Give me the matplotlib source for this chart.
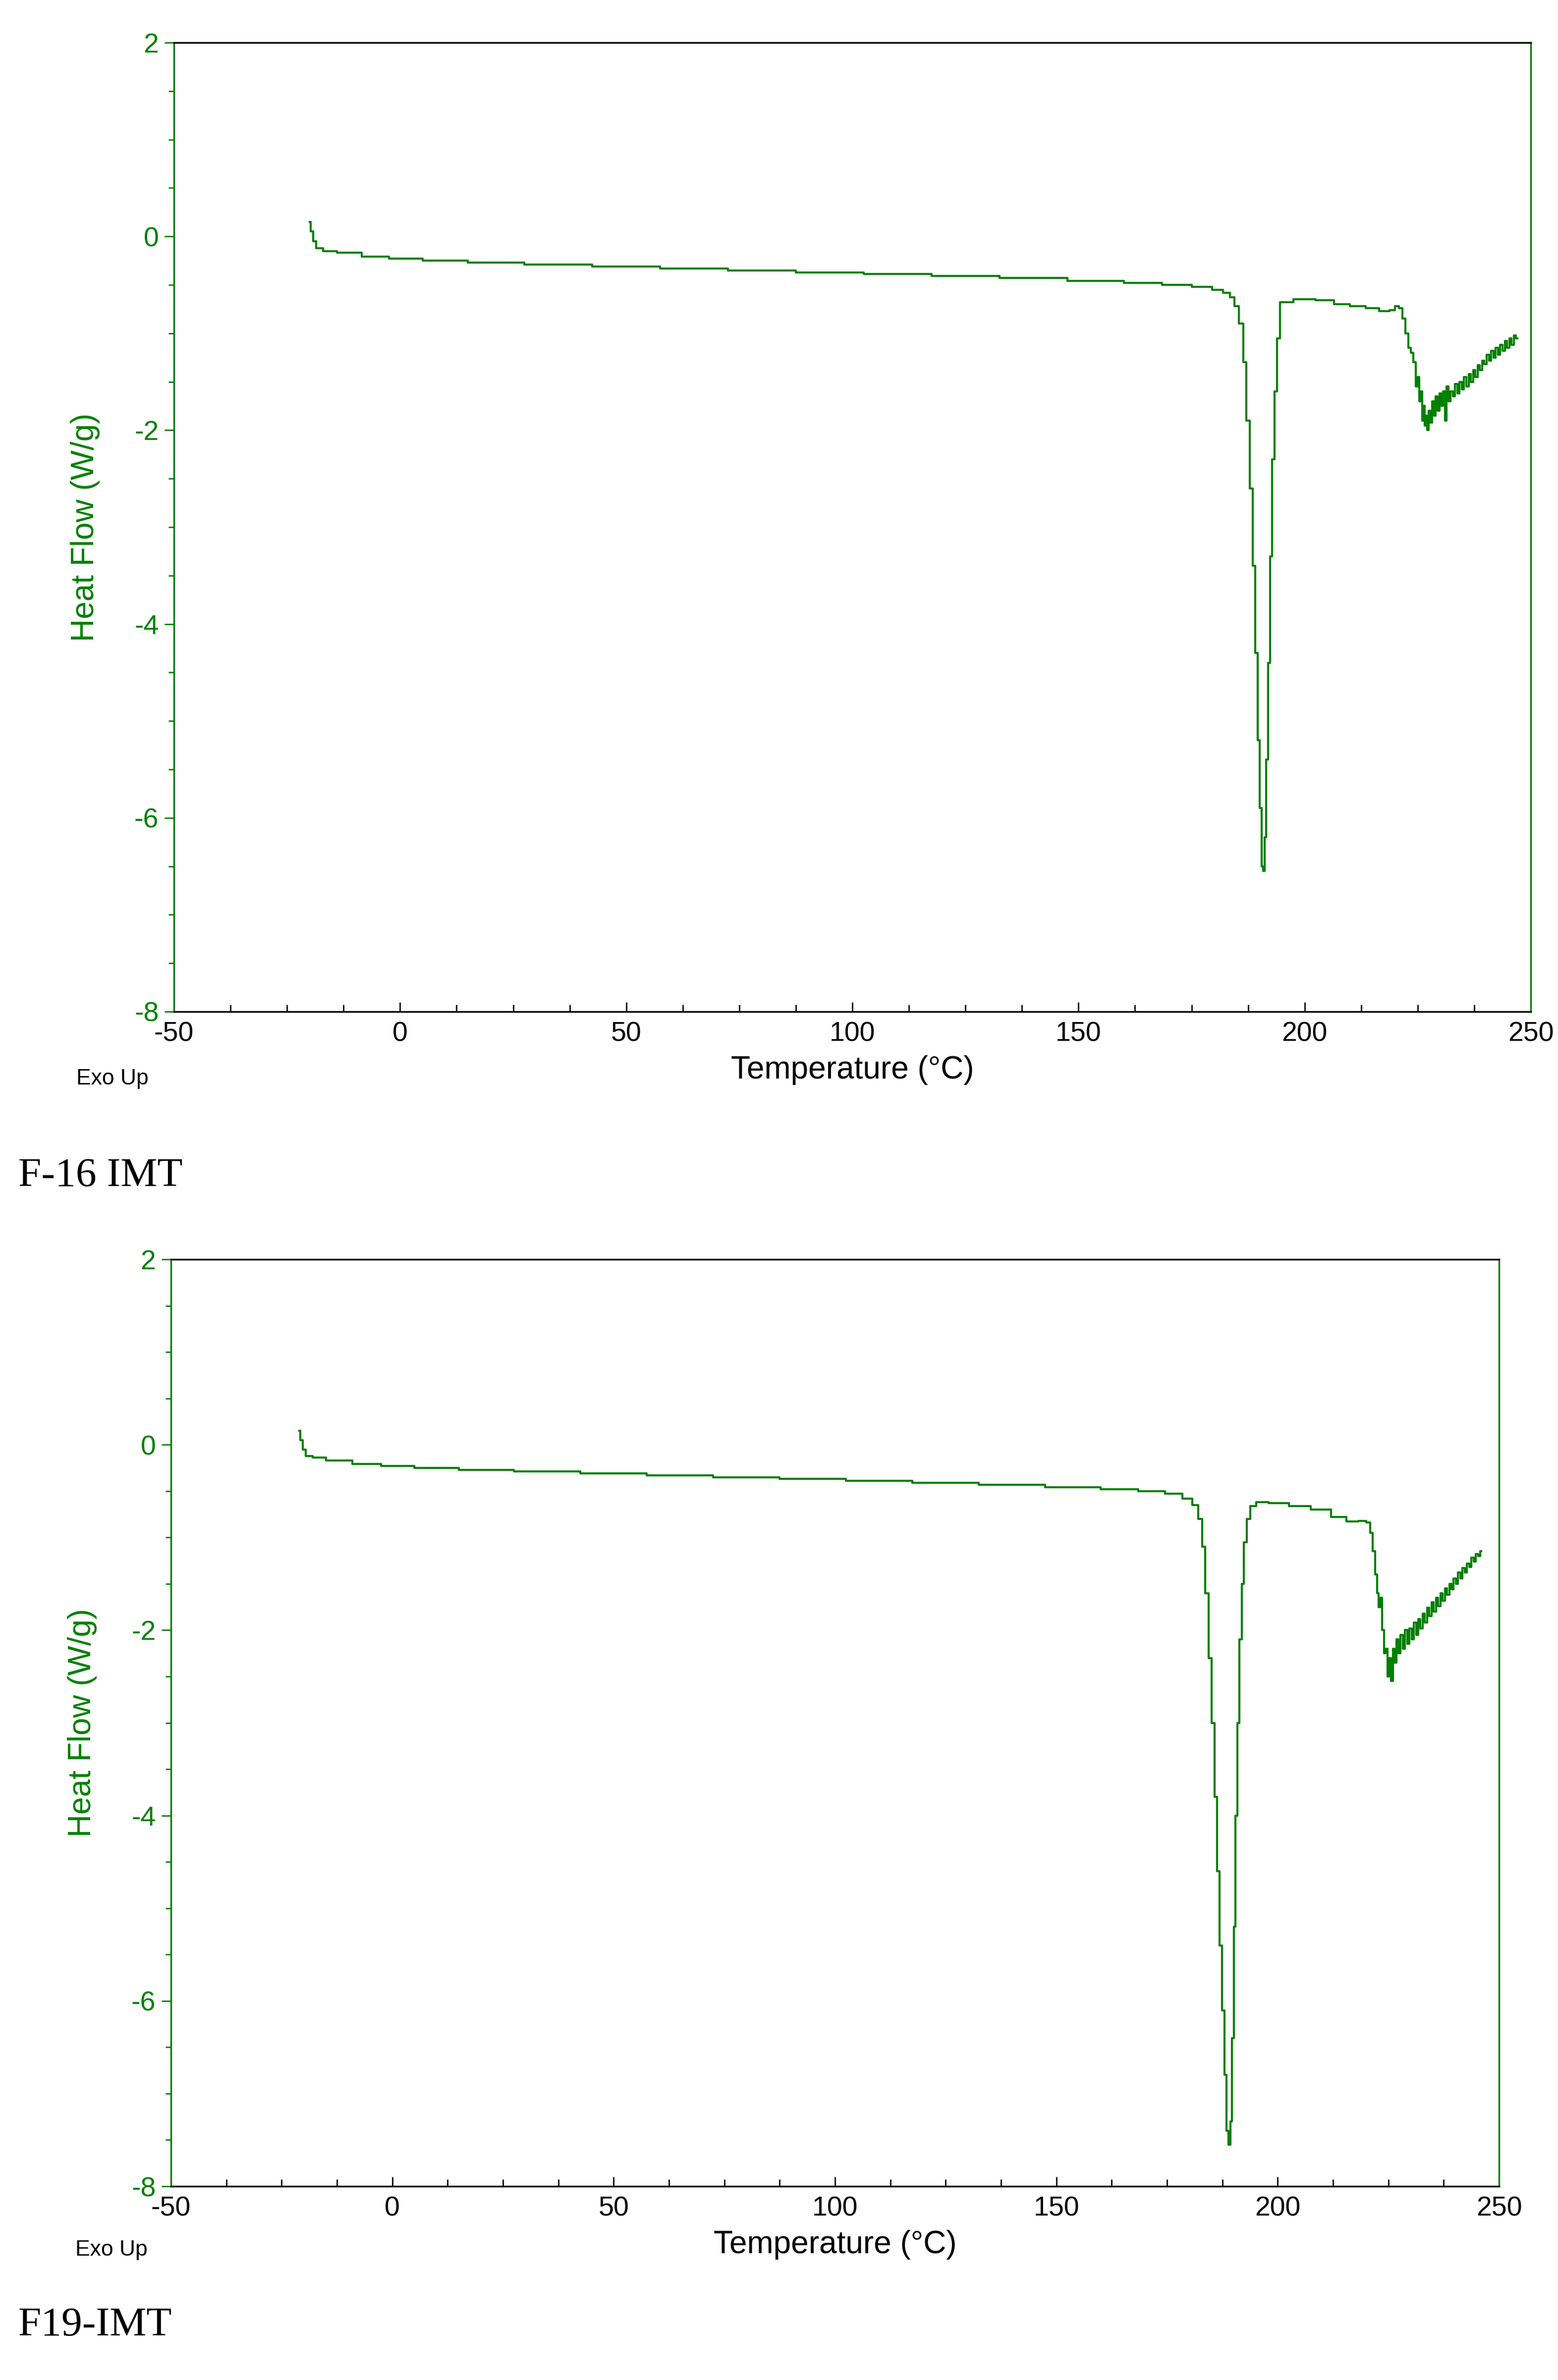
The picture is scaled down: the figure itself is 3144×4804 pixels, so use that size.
import numpy as np
import matplotlib.pyplot as plt
from matplotlib.ticker import MultipleLocator

plt.rcParams['axes.unicode_minus'] = False
plt.rcParams['font.family'] = ['Liberation Sans', 'DejaVu Sans']

# F-16 IMT trace (temperature in C, heat flow in W/g)
t1 = [-20, -19.5, -19, -18, -16, -12, -5, 0, 10, 20, 35, 50, 65, 80, 95, 110, 125, 140, 155,
      165, 172, 178, 181, 183, 184, 185, 186, 186.8, 187.5, 188.2, 188.8, 189.4, 189.9, 190.3,
      190.7, 191.0, 191.3, 191.7, 192.1, 192.6, 193.1, 193.6, 194.2, 195, 200, 205, 208, 212,
      215, 218, 219.5, 220.5, 221.3, 222, 222.6, 223.2, 223.8, 224.3, 224.8, 225.2, 225.5,
      225.8, 226.1, 226.4, 226.7, 227.0, 227.3, 227.6, 228.0, 228.4, 228.8, 229.2, 229.6,
      230.0, 230.4, 230.8, 231.2, 231.6, 232.0, 232.5, 233.0, 233.5, 234.0, 234.5, 235.0,
      235.5, 236.0, 236.5, 237.0, 237.5, 238.0, 238.5, 239.0, 239.5, 240.0, 240.5, 241.0,
      241.5, 242.0, 242.5, 243.0, 243.5, 244.0, 244.5, 245.0, 245.5, 246.0, 246.5, 247.0]
hf1 = [0.15, 0.05, -0.05, -0.12, -0.15, -0.17, -0.21, -0.23, -0.25, -0.27, -0.29, -0.31, -0.33,
       -0.35, -0.37, -0.39, -0.41, -0.43, -0.46, -0.48, -0.5, -0.52, -0.55, -0.58, -0.63,
       -0.72, -0.9, -1.3, -1.9, -2.6, -3.4, -4.3, -5.2, -5.9, -6.5, -6.55, -6.2, -5.4, -4.4,
       -3.3, -2.3, -1.6, -1.05, -0.68, -0.65, -0.66, -0.7, -0.72, -0.74, -0.77, -0.76, -0.72,
       -0.74, -0.85, -1.0, -1.15, -1.2, -1.3, -1.55, -1.45, -1.7, -1.6, -1.9, -1.75, -1.95,
       -1.85, -2.0, -1.8, -1.92, -1.7, -1.85, -1.65, -1.8, -1.62, -1.75, -1.6, -1.9, -1.55,
       -1.7, -1.6, -1.65, -1.52, -1.62, -1.5, -1.58, -1.45, -1.55, -1.42, -1.5, -1.38,
       -1.45, -1.33, -1.38, -1.28, -1.32, -1.22, -1.28, -1.18, -1.25, -1.15, -1.22, -1.12,
       -1.18, -1.08, -1.15, -1.05, -1.12, -1.02, -1.05]

# F19-IMT trace
t2 = [-21, -20.5, -20, -19, -17, -13, -5, 0, 10, 20, 35, 50, 65, 80, 95, 110, 125, 140, 155,
      165, 172, 177, 180, 181.5, 182.5, 183.3, 184, 184.7, 185.4, 186, 186.6, 187.2, 187.7,
      188.2, 188.7, 189.1, 189.5, 189.9, 190.3, 190.7, 191.1, 191.6, 192.1, 192.7, 193.4,
      194.2, 196, 200, 205, 210, 214, 217, 219.5, 220.5, 221.2, 221.8, 222.3, 222.7, 223.0,
      223.4, 223.8, 224.2, 224.6, 225.0, 225.4, 225.8, 226.2, 226.6, 227.0, 227.5, 228.0,
      228.5, 229.0, 229.5, 230.0, 230.5, 231.0, 231.5, 232.0, 232.5, 233.0, 233.5, 234.0,
      234.5, 235.0, 235.5, 236.0, 236.5, 237.0, 237.5, 238.0, 238.5, 239.0, 239.5, 240.0,
      240.5, 241.0, 241.5, 242.0, 242.5, 243.0, 243.5, 244.0, 244.5, 245.0, 245.5, 246.0]
hf2 = [0.15, 0.05, -0.05, -0.12, -0.14, -0.17, -0.21, -0.23, -0.25, -0.27, -0.29, -0.31, -0.33,
       -0.35, -0.37, -0.39, -0.41, -0.43, -0.46, -0.48, -0.5, -0.53, -0.58, -0.65, -0.8,
       -1.1, -1.6, -2.3, -3.0, -3.8, -4.6, -5.4, -6.1, -6.8, -7.4, -7.55, -7.3, -6.4, -5.2,
       -4.0, -3.0, -2.1, -1.5, -1.05, -0.8, -0.66, -0.62, -0.63, -0.66, -0.7, -0.78, -0.83,
       -0.82, -0.84, -0.95, -1.15, -1.4, -1.6, -1.75, -1.65, -2.0, -2.25, -2.2, -2.5, -2.3,
       -2.55, -2.2, -2.35, -2.1, -2.25, -2.05, -2.2, -2.0, -2.15, -1.98, -2.1, -1.92, -2.05,
       -1.88, -1.98, -1.82, -1.92, -1.76, -1.85, -1.7, -1.8, -1.65, -1.74, -1.6, -1.68,
       -1.55, -1.62, -1.5, -1.56, -1.44, -1.5, -1.38, -1.44, -1.33, -1.38, -1.28, -1.32,
       -1.22, -1.26, -1.18, -1.2, -1.15]

green = "#008000"

fig = plt.figure(figsize=(31.44, 48.04), dpi=100)
W, H = 3144, 4804

def panel(rect, t, hf, caption, cap_y):
    l, r, top, bot = rect
    ax = fig.add_axes([l / W, 1 - bot / H, (r - l) / W, (bot - top) / H])
    ax.plot(t, hf, color=green, lw=3, drawstyle="steps-mid")
    ax.set_xlim(-50, 250)
    ax.set_ylim(-8, 2)
    ax.xaxis.set_major_locator(MultipleLocator(50))
    ax.xaxis.set_minor_locator(MultipleLocator(12.5))
    ax.yaxis.set_major_locator(MultipleLocator(2))
    ax.yaxis.set_minor_locator(MultipleLocator(0.5))
    ax.spines["left"].set_color(green)
    ax.spines["right"].set_color(green)
    ax.spines["top"].set_color("black")
    ax.spines["bottom"].set_color("black")
    for s in ax.spines.values():
        s.set_linewidth(2.5)
    ax.tick_params(axis="x", which="both", direction="in", colors="black", labelsize=40,
                   width=2, pad=14)
    ax.tick_params(axis="x", which="major", length=14)
    ax.tick_params(axis="x", which="minor", length=10)
    ax.tick_params(axis="y", which="both", direction="out", colors=green, labelsize=40,
                   width=2, pad=8)
    ax.tick_params(axis="y", which="major", length=14)
    ax.tick_params(axis="y", which="minor", length=8)
    ax.set_xlabel("Temperature (°C)", fontsize=46, labelpad=12)
    ax.set_ylabel("Heat Flow (W/g)", fontsize=46, color=green, labelpad=50)
    ax.text(-0.072, -0.075, "Exo Up", transform=ax.transAxes, fontsize=32)
    fig.text(37 / W, 1 - cap_y / H, caption, fontsize=60, family="Liberation Serif",
             va="center")

panel((351, 3089, 86, 2042), t1, hf1, "F-16 IMT", 2374)
panel((345, 3025, 2542, 4413), t2, hf2, "F19-IMT", 4694)

fig.savefig("out.png", dpi=100)
